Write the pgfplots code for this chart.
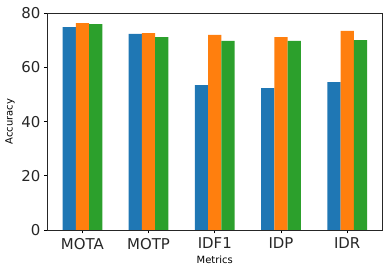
\documentclass[border=0pt]{standalone}
\usepackage{fontspec}
\setmainfont{DejaVu Sans}
\usepackage{pgfplots}
\pgfplotsset{compat=1.18}
\usetikzlibrary{calc}

\definecolor{tabblue}{HTML}{1F77B4}
\definecolor{taborange}{HTML}{FF7F0E}
\definecolor{tabgreen}{HTML}{2CA02C}

\begin{document}
\begin{tikzpicture}
\begin{axis}[
    name=ax,
    scale only axis,
    width=335bp, height=216.7bp,
    xmin=-0.53, xmax=4.53,
    ymin=0, ymax=80,
    xtick={0,1,2,3,4},
    xticklabels={MOTA,MOTP,IDF1,IDP,IDR},
    ytick={0,20,40,60,80},
    xtick pos=bottom, ytick pos=left,
    /pgf/number format/assume math mode=true,
    tick align=outside,
    major tick length=3.5bp,
    tick style={black, line width=0.8pt},
    axis line style={line width=0.8pt, black!85},
    ticklabel style={font=\fontsize{15}{18}\selectfont, text=black!85},
    xticklabel style={yshift=-1bp},
    xlabel={Metrics}, ylabel={Accuracy},
    label style={font=\fontsize{10}{12}\selectfont},
    xlabel style={at={(axis description cs:0.5,-0.138)}, anchor=center},
    ylabel style={at={(axis description cs:-0.111,0.5)}, anchor=center},
    ybar, bar width=0.2,
    every axis plot/.append style={draw=none},
]
\addplot[fill=tabblue, bar shift=-0.2] coordinates {(0,74.9) (1,72.4) (2,53.5) (3,52.4) (4,54.6)};
\addplot[fill=taborange, bar shift=0] coordinates {(0,76.4) (1,72.7) (2,72.0) (3,71.2) (4,73.5)};
\addplot[fill=tabgreen, bar shift=0.2] coordinates {(0,76.0) (1,71.2) (2,69.8) (3,69.8) (4,70.1)};
\end{axis}
\pgfresetboundingbox
\useasboundingbox ($(ax.south west)+(-47.3bp,-43bp)$) rectangle ($(ax.north east)+(6.7bp,13.3bp)$);
\end{tikzpicture}
\end{document}
